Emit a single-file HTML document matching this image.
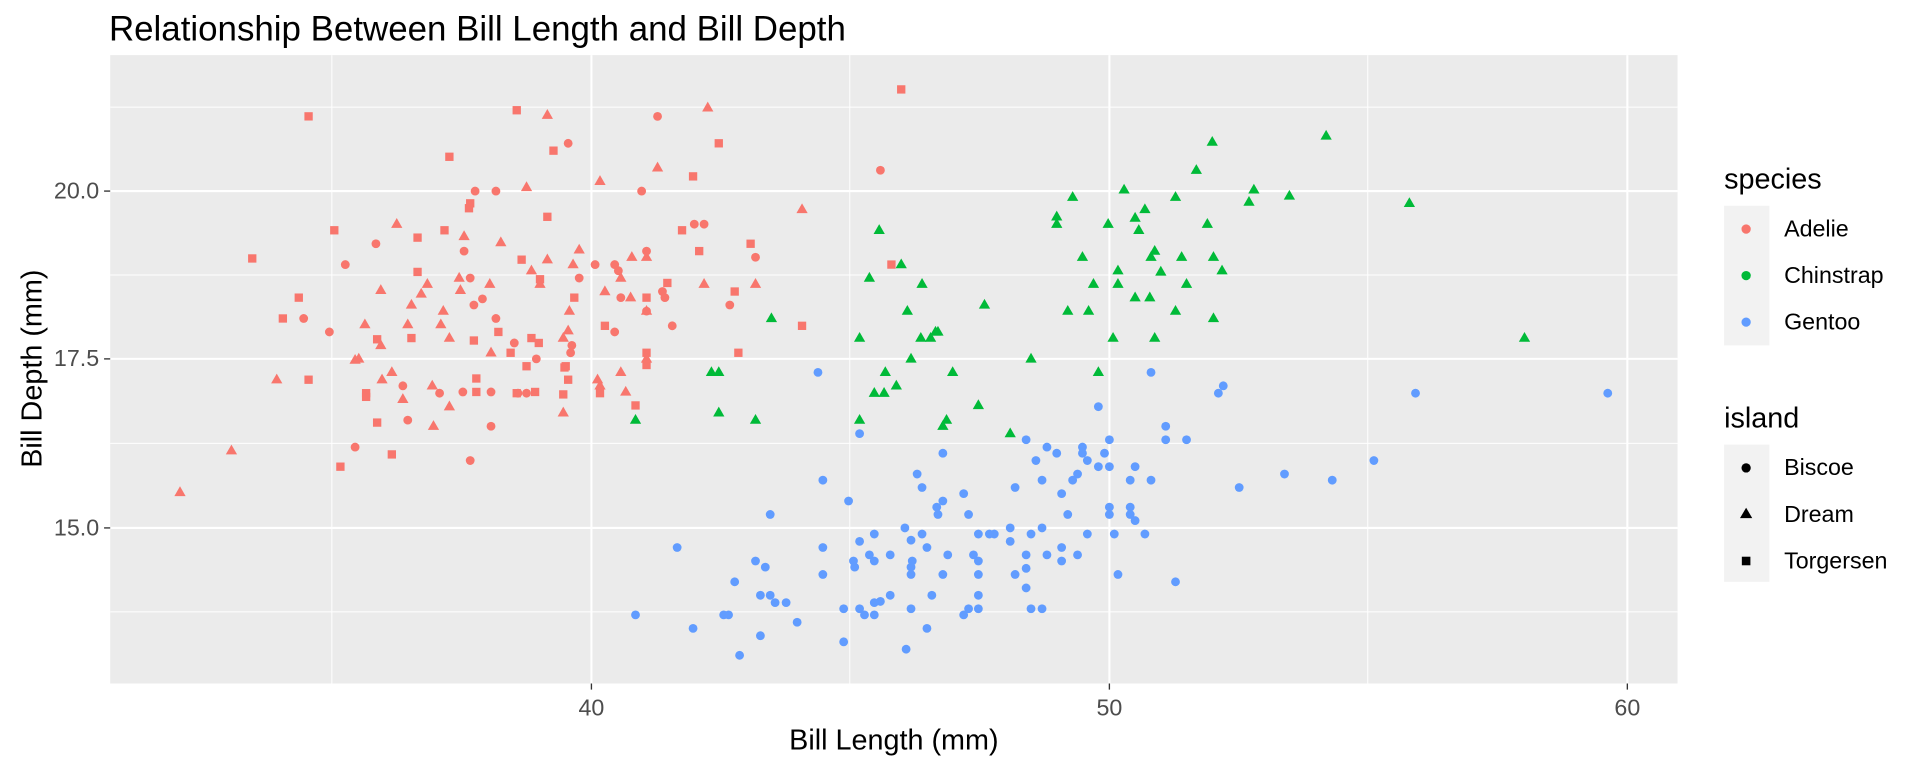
<!DOCTYPE html>
<html><head><meta charset="utf-8"><style>html,body{margin:0;padding:0;background:#fff}svg{display:block}text{font-family:"Liberation Sans",Arial,sans-serif}</style></head>
<body>
<svg id="s" width="1920" height="768" viewBox="0 0 1568 627" preserveAspectRatio="none" xmlns="http://www.w3.org/2000/svg">
<rect x="0" y="0" width="1568" height="627" fill="#fff"/>
<text x="89" y="33" font-size="28.5" fill="#000">Relationship Between Bill Length and Bill Depth</text>
<rect x="90" y="45" width="1280" height="513" fill="#EBEBEB"/>
<g stroke="#fff" stroke-width="0.8">
<line x1="271" y1="45" x2="271" y2="558"/><line x1="694" y1="45" x2="694" y2="558"/><line x1="1117" y1="45" x2="1117" y2="558"/>
<line x1="90" y1="87.5" x2="1370" y2="87.5"/><line x1="90" y1="224.5" x2="1370" y2="224.5"/><line x1="90" y1="362" x2="1370" y2="362"/><line x1="90" y1="499.5" x2="1370" y2="499.5"/>
</g>
<g stroke="#fff" stroke-width="1.7">
<line x1="483" y1="45" x2="483" y2="558"/><line x1="906" y1="45" x2="906" y2="558"/><line x1="1329" y1="45" x2="1329" y2="558"/>
<line x1="90" y1="156" x2="1370" y2="156"/><line x1="90" y1="293" x2="1370" y2="293"/><line x1="90" y1="431" x2="1370" y2="431"/>
</g>
<g stroke="#333" stroke-width="1.1">
<line x1="85" y1="156" x2="90" y2="156"/><line x1="85" y1="293" x2="90" y2="293"/><line x1="85" y1="431" x2="90" y2="431"/>
<line x1="483" y1="558" x2="483" y2="563"/><line x1="906" y1="558" x2="906" y2="563"/><line x1="1329" y1="558" x2="1329" y2="563"/>
</g>
<g font-size="19" fill="#4D4D4D" text-anchor="end">
<text x="81" y="162">20.0</text><text x="81" y="299">17.5</text><text x="81" y="437">15.0</text>
</g>
<g font-size="19" fill="#4D4D4D" text-anchor="middle">
<text x="483" y="584">40</text><text x="906" y="584">50</text><text x="1329" y="584">60</text>
</g>
<text x="730" y="612" font-size="23.5" text-anchor="middle" fill="#000">Bill Length (mm)</text>
<text transform="translate(34,301) rotate(-90)" font-size="23.5" text-anchor="middle" fill="#000">Bill Depth (mm)</text>
<text x="1408" y="154" font-size="23.5" fill="#000">species</text>
<rect x="1408" y="168" width="37" height="114" fill="#F2F2F2"/>
<g font-size="19" fill="#000"><text x="1457" y="193">Adelie</text><text x="1457" y="231">Chinstrap</text><text x="1457" y="269">Gentoo</text></g>
<circle cx="1426" cy="187" r="3.8" fill="#F8766D"/><circle cx="1426" cy="225" r="3.8" fill="#00BA38"/><circle cx="1426" cy="263" r="3.8" fill="#619CFF"/>
<text x="1408" y="349" font-size="23.5" fill="#000">island</text>
<rect x="1408" y="363" width="37" height="112" fill="#F2F2F2"/>
<g font-size="19" fill="#000"><text x="1457" y="388">Biscoe</text><text x="1457" y="426">Dream</text><text x="1457" y="464">Torgersen</text></g>
<circle cx="1426" cy="382" r="3.8" fill="#000"/>
<polygon points="1426,414.5 1431,423 1421,423" fill="#000"/>
<rect x="1422.5" y="454.5" width="7" height="7" fill="#000"/>
<g id="pts"></g>
</svg>
<script>
var R="#F8766D",G="#00BA38",B="#619CFF";
var rs=[[252,95],[422,90],[736,73],[367,128],[452,123],[587,117],[566,144],[384,166],[447,177],[273,188],[341,194],[363,188],[557,188],[613,199],[206,211],[571,205],[426,212],[341,222],[441,228],[728,216],[244,243],[231,260],[407,271],[387,278],[469,243],[545,231],[600,238],[494,266],[528,243],[655,266],[336,276],[308,277],[434,276],[417,288],[430,299],[603,288],[528,298],[528,288],[252,310],[462,299],[389,309],[389,320],[299,321],[299,324],[422,321],[437,320],[464,310],[461,300],[460,322],[519,331],[308,345],[278,381],[320,371],[490,321],[440,280],[383,170]];
var rc=[[537,95],[464,117],[719,139],[388,156],[405,156],[524,156],[567,183],[575,183],[307,199],[379,205],[528,205],[617,210],[282,216],[248,260],[269,271],[486,216],[502,216],[505,221],[473,227],[384,227],[507,243],[394,244],[541,238],[543,243],[387,249],[596,249],[405,260],[528,254],[549,266],[502,271],[467,282],[438,293],[466,288],[423,321],[430,321],[401,320],[378,320],[333,343],[401,348],[290,365],[384,376],[329,315],[359,321],[420,280]];
var rt=[[447,94],[578,88],[537,137],[490,148],[430,153],[655,171],[324,183],[379,193],[409,198],[473,204],[375,227],[434,221],[468,216],[516,210],[528,210],[311,237],[349,232],[344,240],[376,237],[400,232],[494,238],[515,243],[575,232],[617,232],[336,249],[362,254],[465,254],[528,254],[298,265],[333,265],[360,265],[464,270],[311,282],[367,276],[460,276],[293,293],[401,288],[528,293],[320,304],[312,310],[226,310],[490,315],[507,304],[511,320],[488,310],[353,315],[367,332],[329,326],[460,337],[354,348],[189,368],[147,402],[447,212],[441,232],[507,227],[290,294]];
var gt=[[1083,111],[990,116],[977,139],[1024,155],[1020,165],[918,155],[960,161],[876,161],[1053,160],[1151,166],[935,171],[863,177],[863,183],[905,183],[927,178],[986,183],[930,188],[718,188],[736,216],[943,205],[940,210],[965,210],[991,210],[884,210],[913,221],[998,221],[710,227],[753,232],[913,232],[948,222],[969,232],[893,232],[939,243],[927,243],[804,249],[872,254],[889,254],[741,254],[960,254],[991,260],[630,260],[909,276],[943,276],[760,276],[764,271],[752,276],[766,271],[702,276],[1245,276],[744,293],[581,304],[587,304],[723,304],[778,304],[842,293],[897,304],[732,315],[714,321],[722,321],[799,331],[773,343],[770,348],[702,343],[587,337],[617,343],[519,343],[825,354]];
var bc=[[668,304],[940,304],[999,315],[995,321],[1156,321],[1313,321],[897,332],[952,348],[702,354],[838,359],[906,359],[952,359],[969,359],[855,365],[884,365],[770,370],[863,370],[884,370],[902,370],[888,376],[846,376],[897,381],[906,381],[927,381],[1122,376],[749,387],[880,387],[1049,387],[672,392],[851,392],[876,392],[923,392],[940,392],[1088,392],[829,398],[753,398],[1012,398],[787,403],[693,409],[770,409],[765,414],[791,420],[766,420],[629,420],[923,414],[906,414],[906,420],[923,420],[927,425],[872,420],[825,431],[851,431],[739,431],[714,436],[744,441],[753,436],[799,436],[812,436],[808,436],[842,436],[888,436],[910,436],[935,436],[702,442],[757,447],[867,447],[672,447],[553,447],[838,453],[799,458],[745,458],[727,453],[710,453],[714,458],[795,453],[774,453],[617,458],[672,469],[625,463],[744,463],[744,469],[770,469],[799,469],[867,458],[838,464],[698,463],[697,458],[829,469],[913,469],[960,475],[727,486],[600,475],[629,486],[799,486],[761,486],[621,486],[744,497],[633,492],[642,492],[719,491],[714,492],[799,497],[838,480],[842,497],[851,497],[689,497],[702,497],[706,502],[714,502],[791,497],[787,502],[519,502],[591,502],[595,502],[566,513],[651,508],[757,513],[621,519],[689,524],[740,530],[604,535],[825,442],[855,453],[880,453],[867,403]];
var h="";
function c(a,col){a.forEach(function(p){h+='<circle cx="'+p[0]+'" cy="'+p[1]+'" r="3.6" fill="'+col+'"/>';});}
function t(a,col){a.forEach(function(p){var x=p[0],y=p[1];h+='<polygon points="'+x+','+(y-5)+' '+(x+4.6)+','+(y+3)+' '+(x-4.6)+','+(y+3)+'" fill="'+col+'"/>';});}
function s(a,col){a.forEach(function(p){h+='<rect x="'+(p[0]-3.4)+'" y="'+(p[1]-3.4)+'" width="6.8" height="6.8" fill="'+col+'"/>';});}
s(rs,R);c(rc,R);t(rt,R);t(gt,G);c(bc,B);
document.getElementById("pts").innerHTML=h;
</script>
</body></html>
